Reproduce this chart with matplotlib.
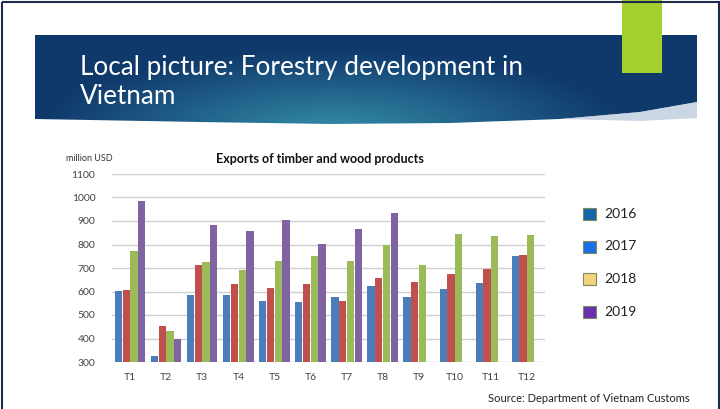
import numpy as np
import matplotlib
matplotlib.use("Agg")
import matplotlib.pyplot as plt
from matplotlib.patches import Rectangle, Polygon

# data (million USD)
months = ["T1", "T2", "T3", "T4", "T5", "T6", "T7", "T8", "T9", "T10", "T11", "T12"]
exp_2016 = [604, 324, 585, 585, 558, 555, 578, 623, 578, 609, 635, 749]
exp_2017 = [607, 453, 714, 633, 617, 633, 559, 657, 641, 674, 695, 756]
exp_2018 = [773, 433, 725, 692, 728, 749, 729, 799, 714, 845, 835, 841]
exp_2019 = [987, 399, 882, 858, 903, 804, 865, 936, np.nan, np.nan, np.nan, np.nan]
years = ["2016", "2017", "2018", "2019"]

bar_colors = ["#4a7ebb", "#c0504d", "#9bbb59", "#8064a2"]
legend_colors = ["#1466a8", "#1b6fe6", "#f2d47e", "#6a30b2"]

plt.rcParams['font.family'] = ['Lato', 'DejaVu Sans']

W, H = 720, 409
fig = plt.figure(figsize=(W / 100, H / 100), dpi=100)

# slide background layer in pixel coordinates
bg = fig.add_axes([0, 0, 1, 1])
bg.set_xlim(0, W)
bg.set_ylim(H, 0)
bg.axis('off')

# banner gradient
bx0, bx1, by0, by1 = 35, 697, 35, 126
gx = np.linspace(0, 1, 300)
gy = np.linspace(0, 1, 100)
GX, GY = np.meshgrid(gx, gy)
d = np.sqrt(((GX - 0.45) / 0.45) ** 2 + ((GY - 1.05) / 0.9) ** 2)
t = np.clip(1 - d, 0, 1)
dark = np.array([0.06, 0.22, 0.42])
light = np.array([0.20, 0.55, 0.66])
img = dark[None, None, :] + (light - dark)[None, None, :] * t[..., None]
im = bg.imshow(img, extent=[bx0, bx1, by1, by0], aspect='auto', zorder=1)
clip = Polygon([(bx0, by0), (bx1, by0), (bx1, 102), (640, 112), (560, 119),
                (450, 123), (330, 124), (200, 122), (bx0, 119)], closed=True,
               transform=bg.transData)
im.set_clip_path(clip)
bg.add_patch(Polygon([(560, 119), (640, 112), (bx1, 102), (bx1, 118), (640, 121)],
                     closed=True, facecolor="#a9bcd2", edgecolor='none', alpha=0.6, zorder=2))

bg.text(80, 67, "Local picture: Forestry development in", color='white',
        fontsize=18.8, va='center', ha='left', zorder=3)
bg.text(80, 97, "Vietnam", color='white',
        fontsize=18.8, va='center', ha='left', zorder=3)

# green accent block
bg.add_patch(Rectangle((622, 0), 40, 73, facecolor="#a3cf2f", edgecolor='none', zorder=4))

# slide frame
bg.add_patch(Rectangle((1.5, 1.5), W - 3, H + 5, facecolor='none',
                       edgecolor="#1c2b4a", linewidth=1.5, zorder=5))

bg.text(690, 399, "Source: Department of Vietnam Customs", fontsize=8,
        ha='right', va='center', color="#222222")

# chart
ax = fig.add_axes([112 / W, 1 - 362 / H, (545 - 112) / W, (362 - 174) / H])
x = np.arange(len(months))
w = 0.2
series = [exp_2016, exp_2017, exp_2018, exp_2019]
for i, vals in enumerate(series):
    ax.bar(x + (i - 1.5) * (w + 0.015), np.array(vals) - 300, bottom=300, width=w,
           color=bar_colors[i], zorder=3)

ax.set_ylim(300, 1100)
ax.set_xlim(-0.5, len(months) - 0.5)
ax.set_yticks(range(300, 1101, 100))
ax.set_xticks(x)
ax.set_xticklabels(months)
ax.tick_params(axis='both', length=0, labelsize=7.5, colors="#444444")
ax.tick_params(axis='x', pad=8)
ax.tick_params(axis='y', pad=12)
ax.grid(axis='y', color="#d0d0d0", linewidth=1.0, zorder=0)
for s in ax.spines.values():
    s.set_visible(False)

fig.text(66 / W, 1 - 159 / H, "million USD", fontsize=6.5, color="#333333", va='center')
fig.text(320 / W, 1 - 159 / H, "Exports of timber and wood products", fontsize=9,
         fontweight='bold', ha='center', va='center', color="#111111")

# legend (colours as in the original slide)
for i, yr in enumerate(years):
    yy = 214 + i * 32.5
    bg.add_patch(Rectangle((583, yy - 6), 13, 12, facecolor=legend_colors[i],
                           edgecolor="#7f8a5a", linewidth=0.8, zorder=3))
    bg.text(604, yy, yr, fontsize=10, va='center', ha='left', color="#222222")

fig.savefig("out.png", dpi=100)
